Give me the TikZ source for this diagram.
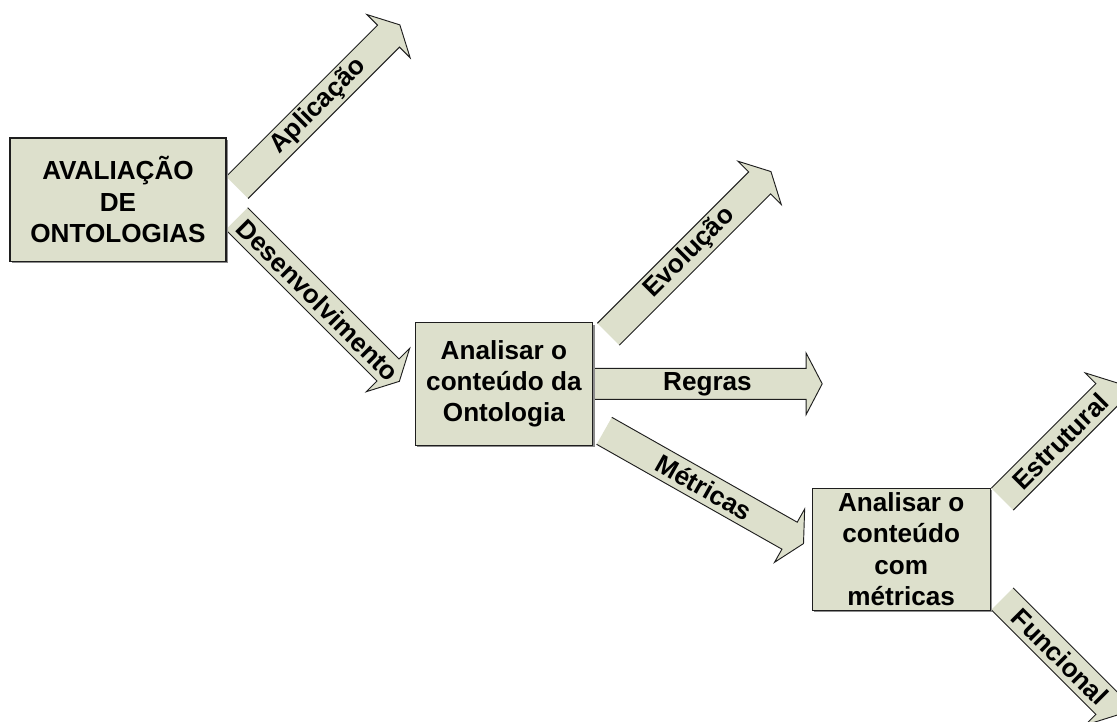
\documentclass[tikz,border=0pt]{standalone}
\usepackage{fontspec}
\setmainfont{Liberation Sans}
\usetikzlibrary{calc,shadows}
\definecolor{boxfill}{RGB}{221,224,204}
\definecolor{edge}{RGB}{30,30,30}
\tikzset{
  stage/.style={draw=edge, line width=0.8pt, fill=boxfill, align=center,
    font=\bfseries\fontsize{19.6}{23.4}\selectfont, inner sep=0pt,
    drop shadow={shadow xshift=1.3pt, shadow yshift=-1.3pt, fill=black!45, opacity=1}},
  arrowlabel/.style={font=\bfseries\fontsize{19.6}{23.4}\selectfont, inner sep=0pt, transform shape},
  arrowbody/.style={fill=boxfill},
  arrowedge/.style={draw=edge, line width=0.7pt, line join=miter},
}
% block arrow: name, tail coordinate, angle, length, label
\newcommand\blockarrow[5]{%
  \begin{scope}[shift={(#2)}, rotate=#3]
    \fill[arrowbody] (0,-15.5) -- ({#4-16},-15.5) -- ({#4-16},-30.6) -- (#4,0)
      -- ({#4-16},30.6) -- ({#4-16},15.5) -- (0,15.5) -- cycle;
    \draw[arrowedge] (0,-15.5) -- ({#4-16},-15.5) -- ({#4-16},-30.6) -- (#4,0)
      -- ({#4-16},30.6) -- ({#4-16},15.5) -- (0,15.5);
    \node[arrowlabel] (#1) at ({#4/2},0) {#5};
  \end{scope}}
\begin{document}
\begin{tikzpicture}[x=0.75pt, y=-0.75pt]
  \useasboundingbox (0,0) rectangle (1117,721);
  \clip (0,0) rectangle (1117,721);

  % stage box centres (boxes are drawn last so their borders sit on top)
  \path (118,199.5) coordinate (c1)
        (503.9,383.9) coordinate (c2)
        (901.2,549.2) coordinate (c3);

  % arrow tails
  \coordinate (tApl) at (237.2,187.5);
  \coordinate (tDes) at (236.7,218.7);
  \coordinate (tEvo) at (608.3,334.2);
  \coordinate (tReg) at (592.7,383.8);
  \coordinate (tMet) at (604.2,430.8);
  \coordinate (tEst) at (1002.2,499.2);
  \coordinate (tFun) at (1002.2,598.8);

  \blockarrow{aplicacao}{tApl}{45}{230}{Aplicação}
  \blockarrow{desenvolvimento}{tDes}{-45}{230}{Desenvolvimento}
  \blockarrow{evolucao}{tEvo}{45}{230}{Evolução}
  \blockarrow{regras}{tReg}{0}{229.5}{Regras}
  \blockarrow{metricas}{tMet}{-29.5}{229}{Métricas}
  \blockarrow{estrutural}{tEst}{45}{164}{Estrutural}
  \blockarrow{funcional}{tFun}{-45}{164}{Funcional}

  \node[stage, minimum width=162pt, minimum height=92.3pt] (avaliacao) at (c1)
    {AVALIAÇÃO\\DE\\ONTOLOGIAS};
  \node[stage, minimum width=133.3pt, minimum height=91.7pt] (conteudo) at (c2)
    {Analisar o\\conteúdo da\\Ontologia};
  \node[stage, minimum width=133.3pt, minimum height=91.3pt] (metricasbox) at (c3)
    {Analisar o\\conteúdo\\com\\métricas};
\end{tikzpicture}
\end{document}
